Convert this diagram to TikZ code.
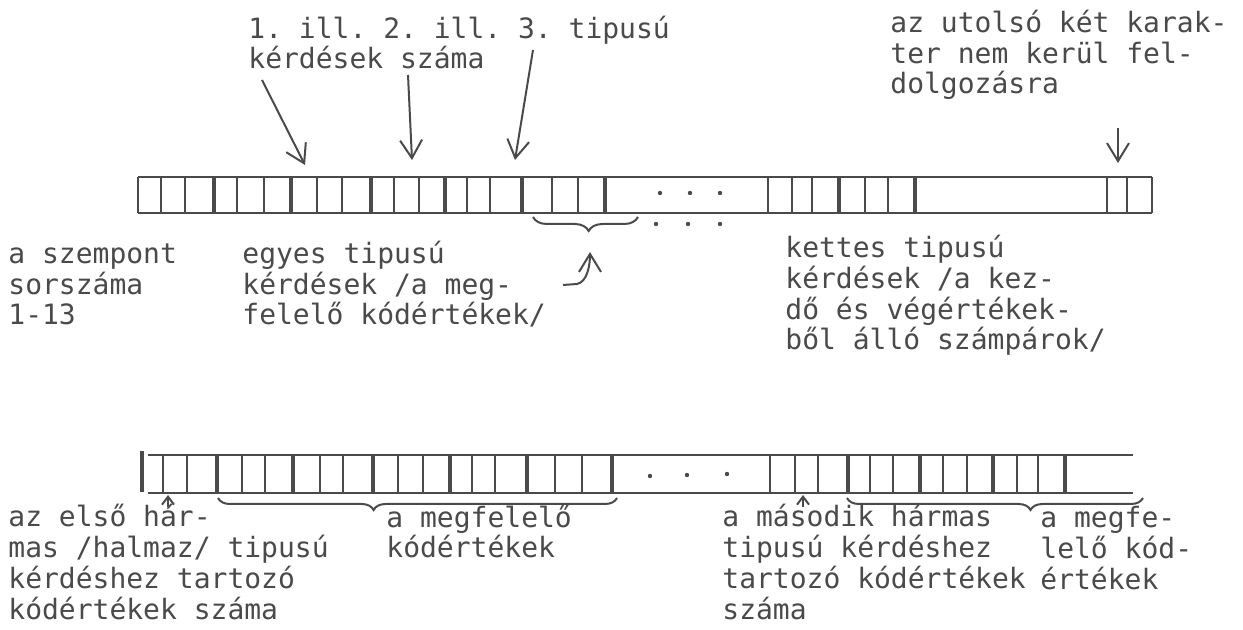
\documentclass[tikz,border=0pt]{standalone}
\usepackage{fontspec}
\setmonofont{DejaVu Sans Mono}
\usepackage{tikz}
\usetikzlibrary{arrows.meta,positioning,calc,decorations.pathreplacing}
\definecolor{ink}{HTML}{4A4A4A}
\newcommand{\tw}{\ttfamily\fontsize{14}{15.4}\selectfont}

\begin{document}
\begin{tikzpicture}[
  x=0.5pt, y=-0.5pt,
  txt/.style={anchor=base west, inner sep=0pt, align=left, font=\tw, text=ink},
  thin/.style={draw=ink, line width=1.1pt},
  heavy/.style={draw=ink, line width=2.1pt},
  pointer/.style={draw=ink, line width=1pt, -{Straight Barb[length=9pt, width=11pt]}},
  tick/.style={draw=ink, line width=1pt, -{Straight Barb[length=4pt, width=6pt]}},
  brc/.style={draw=ink, line width=1pt, decorate, decoration={brace, mirror, amplitude=#1}}
]
\useasboundingbox (0,0) rectangle (1243,630);

% felso rekord
\draw[thin] (138,177) -- (1152,177) (138,213) -- (1152,213);
\foreach \x in {138,161,185,237,264,317,342,394,419,467,490,552,578,768,792,812,865,888,1107,1127,1152}
  \draw[thin] (\x,177) -- (\x,213);
\foreach \x in {214,291,371,445,522,605,839,915}
  \draw[heavy] (\x,177) -- (\x,213);
\foreach \x in {660,690,720}
  \fill[ink] (\x,193) circle[radius=1.1pt];

% also rekord
\draw[thin] (148,455) -- (1133,455) (148,493) -- (1133,493);
\draw[heavy] (142,451) -- (142,492);
\foreach \x in {163,187,242,265,320,343,398,423,472,495,555,582,770,795,818,870,893,943,967,1017,1038}
  \draw[thin] (\x,455) -- (\x,493);
\foreach \x in {217,293,373,450,527,612,848,920,993,1065}
  \draw[heavy] (\x,455) -- (\x,493);
\foreach \x/\y in {650/476,687/475,727/474}
  \fill[ink] (\x,\y) circle[radius=1.1pt];

% szovegek (a node alapvonala az utolso sor)
\node[txt] (tnum) at (248,69) {1. ill. 2. ill. 3. tipusú\\kérdések száma};
\node[txt] (tlast) at (890,94) {az utolsó két karak-\\ter nem kerül fel-\\dolgozásra};
\node[txt] (tsorsz) at (8,325) {a szempont\\sorszáma\\1-13};
\node[txt] (tegyes) at (242,325) {egyes tipusú\\kérdések /a meg-\\felelő kódértékek/};
\node[txt] (tkettes) at (785,350) {kettes tipusú\\kérdések /a kez-\\dő és végértékek-\\ből álló számpárok/};
\node[txt] (telso) at (8,619) {az első hár-\\mas /halmaz/ tipusú\\kérdéshez tartozó\\kódértékek száma};
\node[txt] (tmegf) at (386,558) {a megfelelő\\kódértékek};
\node[txt] (tmasod) at (722,619) {a második hármas\\tipusú kérdéshez\\tartozó kódértékek\\száma};
\node[txt] (tmegfe) at (1040,589) {a megfe-\\lelő kód-\\értékek};

% nyilak
\coordinate (n1a) at (262,80);  \coordinate (n1b) at (305,165);
\coordinate (n2a) at (408,75);  \coordinate (n2b) at (412,160);
\coordinate (n3a) at (533,50);  \coordinate (n3b) at (515,160);
\coordinate (n4a) at (1118,128); \coordinate (n4b) at (1118,163);
\draw[pointer] (n1a) -- (n1b);
\draw[pointer] (n2a) -- (n2b);
\draw[pointer] (n3a) -- (n3b);
\draw[pointer] (n4a) -- (n4b);

\coordinate (e1a) at (168,507); \coordinate (e1b) at (168,495);
\coordinate (e2a) at (803,507); \coordinate (e2b) at (803,495);
\draw[tick] (e1a) -- (e1b);
\draw[tick] (e2a) -- (e2b);

% kapcsos zarojelek
\coordinate (b1a) at (533,217); \coordinate (b1b) at (638,217);
\draw[brc=7pt, decoration={aspect=0.53}] (b1a) -- (b1b);
\foreach \x in {656,688,720}
  \fill[ink] (\x,224) circle[radius=1.1pt];
\coordinate (cvs) at (563,285); \coordinate (cvt) at (590,252);
\draw[pointer] (cvs) -- ++(14,-1) .. controls +(10,-2) and +(0,14) .. (cvt);

\coordinate (b2a) at (218,498); \coordinate (b2b) at (617,498);
\draw[brc=6pt, decoration={aspect=0.39}] (b2a) -- (b2b);
\coordinate (b3a) at (847,498); \coordinate (b3b) at (1143,498);
\draw[brc=6pt, decoration={aspect=0.62}] (b3a) -- (b3b);
\end{tikzpicture}
\end{document}
